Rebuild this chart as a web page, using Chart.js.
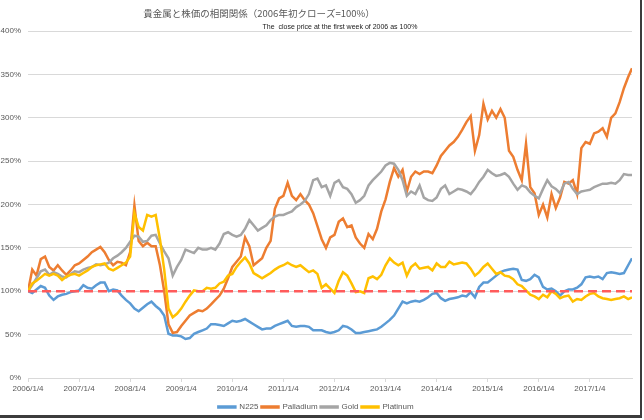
<!DOCTYPE html>
<html>
<head>
<meta charset="utf-8">
<script src="https://cdn.jsdelivr.net/npm/chart.js@4.4.1/dist/chart.umd.min.js"></script>
<style>
  body { margin: 0; background: #fff; }
  #wrap { width: 640px; height: 415px; border-right: 2px solid #3c3c3c; border-bottom: 3px solid #3c3c3c; }
</style>
</head>
<body>
<div id="wrap"><canvas id="chart" width="640" height="415"></canvas></div>
<script>
// 月ごとの値（2006年初の終値 = 100%）、最後の点は2017年10月末
const LAST_X = 141.9;

const yearLabels = ['2006/1/4', '2007/1/4', '2008/1/4', '2009/1/4', '2010/1/4', '2011/1/4',
  '2012/1/4', '2013/1/4', '2014/1/4', '2015/1/4', '2016/1/4', '2017/1/4'];

const n225 = [100, 98, 102, 106, 104, 95, 90, 94, 96, 97, 99, 100,
  101, 107, 104, 103, 107, 110, 110, 100, 102, 101, 95, 90,
  86, 80, 77, 81, 85, 88, 83, 79, 72, 51, 49, 49,
  48, 45, 46, 51, 53, 55, 57, 62, 62, 61, 60, 63,
  66, 65, 66, 68, 65, 62, 59, 56, 57, 57, 60, 62,
  64, 66, 60, 59, 60, 60, 59, 55, 55, 55, 53, 52,
  53, 55, 60, 59, 56, 52, 52, 53, 54, 55, 56, 59,
  63, 67, 72, 80, 88, 86, 88, 89, 88, 90, 93, 97,
  98, 92, 89, 91, 92, 93, 95, 94, 99, 93, 105, 110,
  110, 114, 118, 122, 124, 125, 126, 125, 113, 112, 114, 119,
  116, 105, 102, 103, 100, 95, 100, 102, 102, 104, 108, 116,
  117, 116, 117, 114, 121, 122, 121, 120, 121, 130, 138];

const palladium = [100, 125, 118, 137, 140, 128, 124, 130, 124, 119, 124, 130,
  132, 136, 140, 145, 148, 151, 145, 136, 130, 134, 133, 130,
  145, 199, 158, 152, 156, 152, 152, 130, 100, 62, 52, 53,
  60, 66, 72, 75, 78, 77, 80, 85, 90, 95, 103, 115,
  128, 134, 140, 162, 152, 130, 134, 138, 150, 158, 195, 207,
  210, 225, 210, 205, 212, 205, 200, 190, 175, 160, 150, 162,
  165, 180, 184, 174, 176, 162, 155, 150, 166, 160, 172, 192,
  206, 226, 242, 232, 240, 215, 232, 238, 235, 238, 238, 236,
  245, 256, 262, 268, 272, 278, 286, 295, 302, 262, 280, 316,
  298, 308, 300, 310, 300, 262, 255, 240, 228, 270, 220, 213,
  188, 200, 185, 212, 196, 208, 226, 224, 228, 212, 265, 272,
  270, 282, 284, 288, 278, 300, 305, 318, 334, 347, 357];

const gold = [100, 107, 115, 123, 125, 119, 122, 120, 117, 116, 120, 123,
  122, 125, 127, 128, 131, 130, 131, 133, 138, 141, 145, 150,
  157, 164, 163, 157, 158, 164, 165, 155, 146, 138, 118, 128,
  136, 148, 146, 144, 150, 148, 148, 150, 148, 155, 166, 168,
  165, 163, 165, 172, 182, 176, 170, 173, 176, 182, 186, 188,
  188, 190, 192, 197, 200, 204, 212, 228, 230, 220, 222, 210,
  225, 228, 220, 218, 212, 202, 205, 210, 222, 228, 233, 238,
  245, 248, 247, 240, 228, 210, 215, 212, 222, 208, 205, 204,
  208, 218, 222, 212, 215, 218, 217, 215, 212, 218, 226, 232,
  240, 236, 233, 234, 236, 232, 224, 217, 222, 220, 214, 210,
  207, 218, 228, 221, 218, 213, 224, 226, 218, 212, 215, 216,
  217, 220, 222, 224, 224, 225, 224, 228, 235, 234, 234];

const platinum = [100, 109, 112, 116, 120, 118, 120, 118, 113, 117, 119, 120,
  118, 121, 124, 128, 130, 131, 132, 126, 124, 127, 130, 133,
  140, 190, 174, 170, 188, 186, 188, 160, 125, 80, 70, 74,
  80, 88, 95, 101, 100, 100, 104, 103, 104, 109, 111, 118,
  120, 128, 134, 139, 132, 121, 118, 115, 118, 121, 125, 128,
  130, 133, 130, 128, 130, 126, 122, 124, 120, 104, 108, 103,
  98, 112, 122, 118, 109, 99, 100, 98, 115, 117, 114, 119,
  130, 138, 133, 130, 133, 118, 128, 132, 126, 127, 128, 124,
  132, 128, 128, 134, 131, 132, 133, 132, 126, 118, 122, 128,
  132, 126, 120, 122, 118, 117, 114, 108, 106, 101, 96, 94,
  91, 96, 93, 100, 97, 92, 94, 95, 88, 91, 90, 94,
  97, 98, 94, 92, 91, 90, 91, 92, 94, 91, 93];

const baseline = [100, 100];

const toPoints = arr => arr.map((v, i) => ({ x: Math.min(i, LAST_X), y: v }));

// タイトルと説明文、凡例を少し下へ
const titlePlugin = {
  id: 'titles',
  afterLayout(chart) {
    chart.legend.top += 6;
    chart.legend.bottom += 6;
  },
  afterDraw(chart) {
    const ctx = chart.ctx;
    ctx.save();
    ctx.textAlign = 'center';
    ctx.textBaseline = 'middle';
    ctx.fillStyle = '#595959';
    ctx.font = '9.5px "Noto Sans CJK JP", sans-serif';
    ctx.fillText('貴金属と株価の相関関係（2006年初クローズ=100%）', 259, 13);
    ctx.fillStyle = '#1a1a1a';
    ctx.font = '7px "Liberation Sans", sans-serif';
    ctx.fillText('The  close price at the first week of 2006 as 100%', 340, 27);
    ctx.restore();
  }
};

new Chart(document.getElementById('chart'), {
  type: 'line',
  data: {
    datasets: [
      { label: 'N225', data: toPoints(n225), borderColor: '#5B9BD5', backgroundColor: '#5B9BD5', order: 4 },
      { label: 'Palladium', data: toPoints(palladium), borderColor: '#ED7D31', backgroundColor: '#ED7D31', order: 3 },
      { label: 'Gold', data: toPoints(gold), borderColor: '#A5A5A5', backgroundColor: '#A5A5A5', order: 2 },
      { label: 'Platinum', data: toPoints(platinum), borderColor: '#FFC000', backgroundColor: '#FFC000', order: 1 },
      { label: 'base', data: [{ x: 0, y: baseline[0] }, { x: LAST_X, y: baseline[1] }],
        borderColor: '#FF5B5B', borderDash: [9, 5], borderWidth: 2.5, order: 0 }
    ]
  },
  options: {
    responsive: false,
    animation: false,
    events: [],
    layout: { padding: { top: 31, right: 8, bottom: 0, left: 0 } },
    elements: {
      line: { borderWidth: 2.5, tension: 0 },
      point: { radius: 0 }
    },
    scales: {
      x: {
        type: 'linear',
        min: 0,
        max: LAST_X,
        afterFit(scale) { scale.height = 16; },
        grid: { drawOnChartArea: false, drawTicks: true, tickLength: 4, color: '#D9D9D9' },
        border: { color: '#D9D9D9' },
        ticks: {
          stepSize: 12,
          includeBounds: false,
          autoSkip: false,
          maxRotation: 0,
          padding: 2,
          color: '#595959',
          font: { family: 'Liberation Sans', size: 8 },
          callback: v => (v % 12 === 0 ? yearLabels[v / 12] : null)
        }
      },
      y: {
        min: 0,
        max: 400,
        afterFit(scale) { scale.width = 28; },
        grid: { color: '#D9D9D9', drawTicks: false },
        border: { display: false },
        ticks: {
          stepSize: 50,
          padding: 7,
          color: '#595959',
          font: { family: 'Liberation Sans', size: 8 },
          callback: v => v + '%'
        }
      }
    },
    plugins: {
      title: { display: false },
      tooltip: { enabled: false },
      legend: {
        position: 'bottom',
        labels: {
          boxWidth: 17,
          boxHeight: 1,
          padding: 3,
          color: '#595959',
          font: { family: 'Liberation Sans', size: 8 },
          filter: item => item.text !== 'base',
          sort: (a, b) => a.datasetIndex - b.datasetIndex
        }
      }
    }
  },
  plugins: [titlePlugin]
});
</script>
</body>
</html>
